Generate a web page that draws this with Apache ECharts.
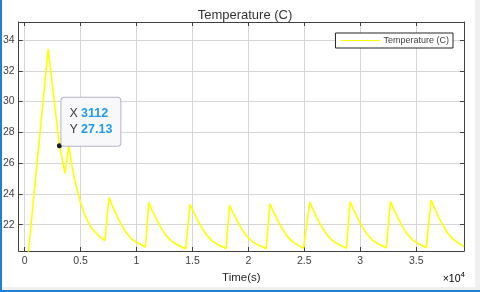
<!DOCTYPE html>
<html>
<head>
<meta charset="utf-8">
<script src="https://cdn.jsdelivr.net/npm/echarts@6/dist/echarts.min.js"></script>
<style>html,body{margin:0;padding:0;background:#fff;}#c{width:480px;height:292px;}</style>
</head>
<body>
<div id="c"></div>
<script>
const chartTitle = 'Temperature (C)';
const seriesName = 'Temperature (C)';
const xName = 'Time(s)';
const timeS = [0, 2110, 3112, 3620, 3950, 4200, 4480, 4930, 5370, 5970, 6710, 7180,
  7540, 7790, 8040, 8340, 8640, 9040, 9540, 10040, 10540, 10800,
  11100, 11350, 11600, 11900, 12200, 12600, 13100, 13600, 14100, 14400,
  14780, 15030, 15280, 15580, 15880, 16280, 16780, 17280, 17780, 17990,
  18320, 18570, 18820, 19120, 19420, 19820, 20320, 20820, 21320, 21580,
  21930, 22180, 22430, 22730, 23030, 23430, 23930, 24430, 24930, 25050,
  25490, 25740, 25990, 26290, 26590, 26990, 27490, 27990, 28490, 28760,
  29090, 29340, 29590, 29890, 30190, 30590, 31090, 31590, 32090, 32320,
  32700, 32950, 33200, 33500, 33800, 34200, 34700, 35200, 35700, 35890,
  36330, 36580, 36830, 37130, 37430, 37830, 38330, 38830, 39270];
const tempC = [17.7, 33.42, 27.13, 25.34, 27.15, 25.95, 24.9, 23.6, 22.63, 21.77, 21.22, 20.96,
  23.78, 23.33, 22.91, 22.42, 22.00, 21.52, 21.10, 20.84, 20.65, 20.55,
  23.44, 23.02, 22.63, 22.18, 21.79, 21.34, 20.95, 20.71, 20.53, 20.44,
  23.33, 22.93, 22.55, 22.12, 21.74, 21.31, 20.93, 20.70, 20.53, 20.44,
  23.26, 22.87, 22.50, 22.08, 21.71, 21.29, 20.92, 20.69, 20.53, 20.44,
  23.35, 22.94, 22.55, 22.11, 21.73, 21.29, 20.90, 20.67, 20.47, 20.40,
  23.46, 23.04, 22.65, 22.20, 21.82, 21.37, 20.98, 20.74, 20.56, 20.47,
  23.50, 23.08, 22.69, 22.24, 21.84, 21.39, 21.00, 20.76, 20.58, 20.49,
  23.50, 23.08, 22.69, 22.24, 21.84, 21.39, 21.00, 20.76, 20.58, 20.49,
  23.60, 23.17, 22.76, 22.30, 21.90, 21.43, 21.03, 20.78, 20.57];
const xTicks = [0, 5000, 10000, 15000, 20000, 25000, 30000, 35000];
const yTicks = [22, 24, 26, 28, 30, 32, 34];
const xRange = [-530, 39270];
const yRange = [20.29, 35.17];
const tipX = 3112;
const tipY = 27.13;

const font = 'Liberation Sans, Arial, Helvetica, sans-serif';
const axisCol = '#404040';
const gridCol = '#d6d6d6';

function mkX(pos, labels) {
  return {
    type: 'value', position: pos, min: xRange[0], max: xRange[1],
    name: labels ? xName : '', nameLocation: 'middle', nameGap: 18,
    nameTextStyle: {fontFamily: font, fontSize: 11.5, color: '#262626'},
    axisLine: {show: true, onZero: false, lineStyle: {color: axisCol, width: 1}},
    axisTick: {show: true, inside: true, length: 4, customValues: xTicks, lineStyle: {color: axisCol}},
    axisLabel: {show: labels, customValues: xTicks, margin: 5, fontFamily: font, fontSize: 10.5, color: '#404040',
      formatter: v => String(v / 10000)},
    splitLine: {show: labels, lineStyle: {color: gridCol, width: 1}}
  };
}
function mkY(pos, labels) {
  return {
    type: 'value', position: pos, min: yRange[0], max: yRange[1],
    axisLine: {show: true, onZero: false, lineStyle: {color: axisCol, width: 1}},
    axisTick: {show: true, inside: true, length: 4, customValues: yTicks, lineStyle: {color: axisCol}},
    axisLabel: {show: labels, customValues: yTicks, margin: 4, fontFamily: font, fontSize: 10.5, color: '#404040'},
    splitLine: {show: labels, lineStyle: {color: gridCol, width: 1}}
  };
}

const chart = echarts.init(document.getElementById('c'), null, {renderer: 'canvas'});
chart.setOption({
  animation: false,
  backgroundColor: '#ffffff',
  title: {text: chartTitle, left: 240, top: 4, textAlign: 'center',
    textStyle: {fontFamily: font, fontSize: 13, fontWeight: 'normal', color: '#333333'}},
  grid: {left: 17, top: 22, right: 16, bottom: 41, containLabel: false},
  legend: {
    right: 27, top: 33, orient: 'horizontal',
    padding: [3, 4, 3, 5], itemGap: 0,
    borderColor: '#262626', borderWidth: 1, backgroundColor: '#ffffff',
    itemWidth: 40, itemHeight: 8,
    icon: 'path://M0,3.6 L40,3.6 L40,4.4 L0,4.4 Z',
    textStyle: {fontFamily: font, fontSize: 9, color: '#404040', padding: [0, 0, 0, -2]},
    data: [seriesName]
  },
  xAxis: [mkX('bottom', true), mkX('top', false)],
  yAxis: [mkY('left', true), mkY('right', false)],
  series: [{
    name: seriesName, type: 'line', xAxisIndex: 0, yAxisIndex: 0,
    data: timeS.map((t, i) => [t, tempC[i]]),
    showSymbol: false, symbol: 'none', clip: true,
    lineStyle: {color: '#ffff00', width: 1.6},
    itemStyle: {color: '#ffff00'},
    markPoint: {
      symbol: 'circle', symbolSize: 5,
      itemStyle: {color: '#1a1a1a'},
      data: [{coord: [tipX, tipY]}],
      label: {
        show: true, position: [4.5, -45.5], align: 'left', verticalAlign: 'top',
        backgroundColor: '#f8f8fb', borderColor: '#b4b4c8', borderWidth: 1, borderRadius: 3,
        padding: [8, 8, 8, 8],
        formatter: '{k|X} {v|' + tipX + '}\n{k|Y} {v|' + tipY.toFixed(2) + '}',
        rich: {
          k: {fontFamily: font, fontSize: 12.5, color: '#404040', lineHeight: 16},
          v: {fontFamily: font, fontSize: 12.5, fontWeight: 'bold', color: '#1e9af5', lineHeight: 16}
        }
      }
    }
  }],
  graphic: [
    {type: 'text', right: 15, top: 271, style: {
      text: '{a|×10}{b|4}', rich: {
        a: {fontFamily: font, fontSize: 10.5, color: '#404040', verticalAlign: 'bottom'},
        b: {fontFamily: font, fontSize: 8, color: '#404040', verticalAlign: 'top', padding: [0, 0, 6, 0]}
      }}},
    {type: 'rect', shape: {x: 475, y: 0, width: 5, height: 292}, style: {fill: '#f0f0f0'}, silent: true},
    {type: 'rect', shape: {x: 0, y: 287, width: 480, height: 3}, style: {fill: '#f0f0f0'}, silent: true},
    {type: 'rect', shape: {x: 0, y: 290, width: 480, height: 2}, style: {fill: '#1e7fd8'}, silent: true},
    {type: 'rect', shape: {x: 0, y: 0, width: 2, height: 292}, style: {fill: '#1e7fd8'}, silent: true}
  ]
});
</script>
</body>
</html>
